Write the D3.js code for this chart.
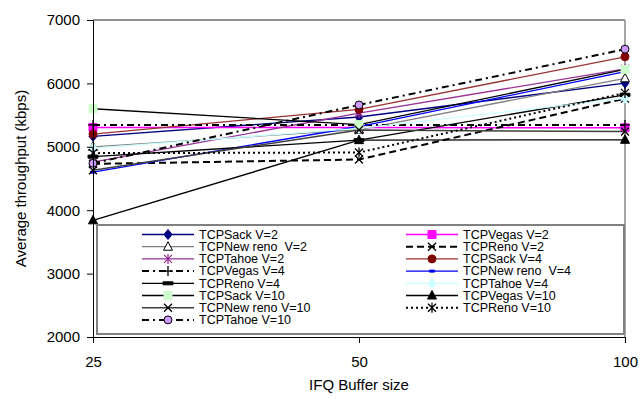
<!DOCTYPE html>
<html>
<head>
<meta charset="utf-8">
<script src="https://cdn.jsdelivr.net/npm/d3@7"></script>
<style>
  body { margin: 0; background: #fff; }
  svg { font-family: "Liberation Sans", Arial, sans-serif; }
</style>
</head>
<body>
<svg id="chart" width="640" height="399"></svg>
<script>
// buffer sizes on the x axis
const bufferSizes = [25, 50, 100];
const yTicks = [2000, 3000, 4000, 5000, 6000, 7000];

// average throughput (kbps) per series
const sackV2 = [5165, 5470, 6005];
const vegasV2 = [5305, 5305, 5300];
const newrenoV2 = [5000, 5270, 6080];
const renoV2 = [4730, 4800, 5760];
const tahoeV2 = [4760, 5530, 6230];
const sackV4 = [5200, 5590, 6420];
const vegasV4 = [5345, 5345, 5345];
const newrenoV4 = [4600, 5320, 6185];
const renoV4 = [4845, 5105, 5820];
const tahoeV4 = [4980, 5290, 5765];
const sackV10 = [5600, 5350, 6220];
const vegasV10 = [3840, 5105, 5110];
const newrenoV10 = [4630, 5265, 5240];
const renoV10 = [4900, 4910, 5850];
const tahoeV10 = [4740, 5660, 6540];

const seriesNames = ["TCPSack V=2", "TCPVegas V=2", "TCPNew reno  V=2", "TCPReno V=2", "TCPTahoe V=2",
  "TCPSack V=4", "TCPVegas V=4", "TCPNew reno  V=4", "TCPReno V=4", "TCPTahoe V=4",
  "TCPSack V=10", "TCPVegas V=10", "TCPNew reno V=10", "TCPReno V=10", "TCPTahoe V=10"];
const seriesValues = [sackV2, vegasV2, newrenoV2, renoV2, tahoeV2,
  sackV4, vegasV4, newrenoV4, renoV4, tahoeV4,
  sackV10, vegasV10, newrenoV10, renoV10, tahoeV10];

// look of each series: line colour, dash, marker
const styles = [
  {stroke: "#000080", w: 1.3, dash: null, mark: "diamond", fill: "#000080", ms: "#000080"},
  {stroke: "#ff00ff", w: 1.5, dash: null, mark: "square", fill: "#ff00ff", ms: "#ff00ff"},
  {stroke: "#808080", w: 1.3, dash: null, mark: "triangle", fill: "#fff", ms: "#000"},
  {stroke: "#000", w: 2, dash: "7,4", mark: "x", fill: "none", ms: "#000"},
  {stroke: "#993399", w: 1.3, dash: null, mark: "asterisk", fill: "none", ms: "#993399"},
  {stroke: "#993333", w: 1.3, dash: null, mark: "circle", fill: "#800000", ms: "#800000"},
  {stroke: "#000", w: 2, dash: "7,4,2,4", mark: "plus", fill: "none", ms: "#000"},
  {stroke: "#0000ff", w: 1.3, dash: null, mark: "dash", fill: "#0000ff", ms: "#0000ff", small: true},
  {stroke: "#000", w: 1.3, dash: null, mark: "dash", fill: "#000", ms: "#000"},
  {stroke: "#ccffff", w: 1.3, dash: null, mark: "diamond", fill: "#ccffff", ms: "#ccffff"},
  {stroke: "#000", w: 1.3, dash: null, mark: "square", fill: "#ccffcc", ms: "#ccffcc"},
  {stroke: "#000", w: 1.3, dash: null, mark: "triangle", fill: "#000", ms: "#000"},
  {stroke: "#404040", w: 1.5, dash: null, mark: "x", fill: "none", ms: "#000"},
  {stroke: "#000", w: 2, dash: "2,3", mark: "asterisk", fill: "none", ms: "#000"},
  {stroke: "#000", w: 2, dash: "7,4,2,4", mark: "circle", fill: "#cc99ff", ms: "#000"}
];

const svg = d3.select("#chart");
const mLeft = 93, mRight = 625, mTop = 20, mBottom = 337;

const x = d3.scaleLog().base(2).domain([25, 100]).range([mLeft, mRight]);
const y = d3.scaleLinear().domain([2000, 7000]).range([mBottom, mTop]);

// frame: top and right edges
svg.append("line").attr("x1", mLeft).attr("x2", mRight).attr("y1", mTop).attr("y2", mTop)
  .attr("stroke", "#222").attr("stroke-width", 1.2);
svg.append("line").attr("x1", mRight).attr("x2", mRight).attr("y1", mTop).attr("y2", mBottom)
  .attr("stroke", "#888").attr("stroke-width", 1.5);

function markerPath(type, small) {
  switch (type) {
    case "diamond": return "M0,-5L4,0L0,5L-4,0Z";
    case "square": return "M-4,-4H4V4H-4Z";
    case "triangle": return "M0,-5L4.5,3.5H-4.5Z";
    case "circle": return d3.symbol(d3.symbolCircle, 50)();
    case "x": return "M-4,-4L4,4M-4,4L4,-4";
    case "plus": return "M-5,0H5M0,-5V5";
    case "asterisk": return "M-4,-4L4,4M-4,4L4,-4M0,-5V5";
    case "dash": return small ? "M-2.5,-1H2.5V1H-2.5Z" : "M-5,-1.5H5V1.5H-5Z";
  }
  return "";
}
function isStroked(type) { return type === "x" || type === "plus" || type === "asterisk"; }

function drawMarker(g, st, cx, cy) {
  const p = g.append("path")
    .attr("d", markerPath(st.mark, st.small))
    .attr("transform", "translate(" + cx + "," + cy + ")");
  if (isStroked(st.mark)) {
    p.attr("fill", "none").attr("stroke", st.ms).attr("stroke-width", 1.3);
  } else {
    p.attr("fill", st.fill).attr("stroke", st.ms).attr("stroke-width", 1);
  }
}

const line = d3.line().x((d, i) => x(bufferSizes[i])).y(d => y(d));

const plot = svg.append("g");
seriesValues.forEach(function(vals, k) {
  const st = styles[k];
  const g = plot.append("g");
  g.append("path").datum(vals).attr("d", line)
    .attr("fill", "none").attr("stroke", st.stroke).attr("stroke-width", st.w)
    .attr("stroke-dasharray", st.dash);
  vals.forEach(function(v, i) { drawMarker(g, st, x(bufferSizes[i]), y(v)); });
});

// legend
const legend = svg.append("g");
legend.append("rect").attr("x", 97).attr("y", 225).attr("width", 527).attr("height", 109)
  .attr("fill", "#fff").attr("stroke", "#808080").attr("stroke-width", 2);
seriesNames.forEach(function(name, k) {
  const st = styles[k];
  const col = k % 2, row = Math.floor(k / 2);
  const x0 = col === 0 ? 142 : 406, ly = 234.5 + row * 12.2;
  const g = legend.append("g");
  g.append("line").attr("x1", x0).attr("x2", x0 + 52).attr("y1", ly).attr("y2", ly)
    .attr("stroke", st.stroke).attr("stroke-width", st.w).attr("stroke-dasharray", st.dash);
  drawMarker(g, st, x0 + 26, ly);
  g.append("text").attr("x", x0 + 57).attr("y", ly + 4.3)
    .style("white-space", "pre").attr("font-size", 12.5).attr("fill", "#000")
    .text(name);
});

// axes
const yAxis = d3.axisLeft(y).tickValues(yTicks).tickSize(6).tickSizeOuter(0).tickPadding(7)
  .tickFormat(d3.format("d"));
svg.append("g").attr("transform", "translate(" + mLeft + ",0)").call(yAxis)
  .call(g => g.selectAll("text").attr("font-size", 15).attr("fill", "#000").attr("font-family", null))
  .call(g => g.selectAll("line,path").attr("stroke", "#000"));

const xAxis = d3.axisBottom(x).tickValues(bufferSizes).tickSize(6).tickSizeOuter(0).tickPadding(13)
  .tickFormat(d3.format("d"));
svg.append("g").attr("transform", "translate(0," + mBottom + ")").call(xAxis)
  .call(g => g.selectAll("text").attr("font-size", 15).attr("fill", "#000").attr("font-family", null))
  .call(g => g.selectAll("line,path").attr("stroke", "#000"));

svg.append("text").attr("transform", "translate(26," + (mTop + mBottom) / 2 + ") rotate(-90)")
  .attr("text-anchor", "middle").attr("font-size", 15).text("Average throughput (kbps)");
svg.append("text").attr("x", (mLeft + mRight) / 2).attr("y", 390)
  .attr("text-anchor", "middle").attr("font-size", 15).text("IFQ Buffer size");
</script>
</body>
</html>
